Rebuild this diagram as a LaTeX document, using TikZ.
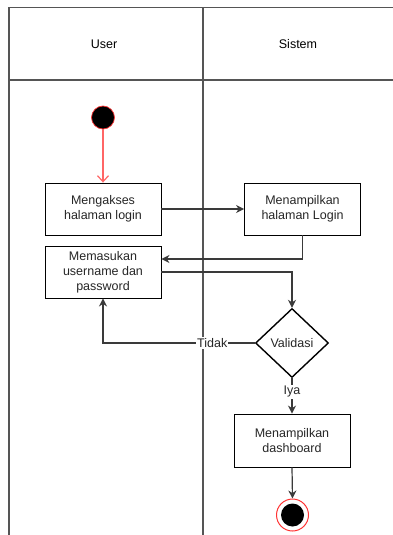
\documentclass[tikz,border=0pt]{standalone}
\usepackage{fontspec}
\setmainfont{Liberation Sans}
\usepackage{tikz}
\usetikzlibrary{positioning,arrows.meta,shapes.geometric,calc}

\definecolor{lanegray}{HTML}{555555}
\definecolor{linegray}{HTML}{3A3A3A}
\definecolor{startred}{HTML}{FF3333}
\definecolor{arrowred}{HTML}{FF6666}

\begin{document}
\begin{tikzpicture}[
		x=1pt, y=-1pt,
		font=\fontsize{12.5pt}{14.8pt}\selectfont,
		>={Stealth[length=8pt,width=8pt]},
		lane/.style={draw=lanegray, line width=1.4pt},
		action/.style={rectangle, draw=black, line width=0.9pt, minimum width=116pt, minimum height=52pt, align=center, text=black!85, inner sep=2pt},
		decision/.style={diamond, draw=black, line width=1.4pt, minimum width=73pt, minimum height=69pt, inner sep=0pt, text=black!85},
		initial/.style={circle, fill=black, draw=startred, line width=0.7pt, minimum size=23pt, inner sep=0pt},
		final/.style={circle, draw=startred, line width=1pt, minimum size=32pt, inner sep=0pt,
			path picture={\fill[black] (path picture bounding box.center) circle (11.5pt);}},
		flow/.style={->, draw=linegray, line width=1.2pt},
		guard/.style={fill=white, inner sep=1pt, text=black!85}
	]
	\useasboundingbox (0,0) rectangle (393,535);

	% Swimlanes
	\draw[lane] (9,535) -- (9,7.5) -- (393,7.5);
	\draw[lane] (9,80) -- (393,80);
	\draw[lane] (203,7.5) -- (203,535);
	\node (user) at (104,44) {User};
	\node (sistem) at (298,44) {Sistem};

	% Nodes
	\node[initial] (start) at (103,117.5) {};
	\node[action] (akses) at (103,209) {Mengakses\\halaman login};
	\node[action] (tampil) at (302.5,209) {Menampilkan\\halaman Login};
	\node[action] (masuk) at (103,272) {Memasukan\\username dan\\password};
	\node[decision] (valid) at (292,343) {Validasi};
	\node[action, minimum height=53pt] (dash) at (292,440.5) {Menampilkan\\dashboard};
	\node[final] (end) at (292.5,515) {};

	% Arrows
	\draw[-{Straight Barb[length=6pt,width=11pt]}, draw=arrowred, line width=1.2pt] (start) -- (akses);
	\draw[flow] (akses) -- (tampil);
	\draw[flow] (tampil.south) |- ([yshift=13pt]masuk.east);
	\draw[flow] (masuk.east) -| (valid.north);
	\draw[flow] (valid.west) -| node[guard, pos=0.14] {Tidak} (masuk.south);
	\draw[flow] (valid.south) -- node[guard, pos=0.39] {Iya} (dash.north);
	\draw[flow] (dash.south) -- (end.north);
\end{tikzpicture}
\end{document}
